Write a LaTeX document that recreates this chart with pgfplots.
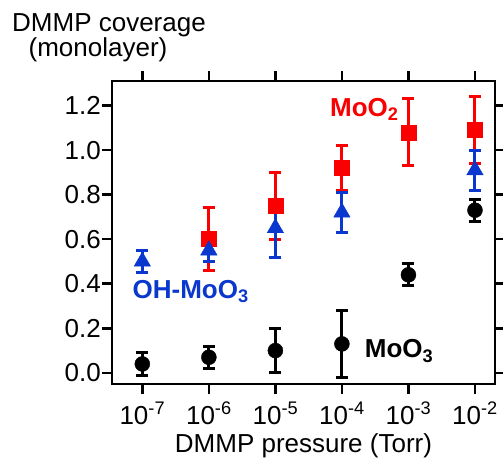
\documentclass[border=0pt]{standalone}
\usepackage{fontspec}
\setmainfont{Liberation Sans}
\usepackage{pgfplots}
\pgfplotsset{compat=1.18}
\definecolor{myred}{RGB}{250,0,0}
\definecolor{myblue}{RGB}{10,55,205}
\begin{document}
\begin{tikzpicture}
\begin{axis}[name=ax, scale only axis, width=383pt, height=303pt,
  xmode=log, xmin=3.5e-8, xmax=2.0e-2, ymin=-0.05, ymax=1.31,
  xminorticks=false,
  axis line style={line width=2.5pt},
  tick align=outside, major tick length=10pt,
  tick style={line width=2.5pt, black},
  xtick={1e-7,1e-6,1e-5,1e-4,1e-3,1e-2},
  xticklabels={10\textsuperscript{-7},10\textsuperscript{-6},10\textsuperscript{-5},10\textsuperscript{-4},10\textsuperscript{-3},10\textsuperscript{-2}},
  ytick={0,0.2,0.4,0.6,0.8,1.0,1.2},
  yticklabels={0.0,0.2,0.4,0.6,0.8,1.0,1.2},
  every tick label/.append style={font=\fontsize{26}{30}\selectfont},
  yticklabel style={inner sep=1pt},
  xticklabel style={inner sep=1pt, anchor=base, yshift=-30pt},
  xlabel={DMMP pressure (Torr)},
  xlabel style={font=\fontsize{26}{30}\selectfont, at={(rel axis cs:0.5,0)}, anchor=base, yshift=-68pt},
  clip=false,
]
% MoO3
\addplot[only marks, mark=*, mark size=7.5pt, black,
  error bars/.cd, y dir=both, y explicit,
  error bar style={line width=3pt},
  error mark options={rotate=90, /tikz/line width=3pt, mark size=6pt}]
coordinates {
 (1e-7,0.04) +- (0,0.05)
 (1e-6,0.07) +- (0,0.05)
 (1e-5,0.10) +- (0,0.10)
 (1e-4,0.13) +- (0,0.15)
 (1e-3,0.44) +- (0,0.05)
 (1e-2,0.73) +- (0,0.05)
};
% MoO2
\addplot[only marks, mark=square*, mark size=7.5pt, myred,
  error bars/.cd, y dir=both, y explicit,
  error bar style={line width=3pt},
  error mark options={rotate=90, /tikz/line width=3pt, mark size=6pt}]
coordinates {
 (1e-6,0.60) +- (0,0.14)
 (1e-5,0.75) +- (0,0.15)
 (1e-4,0.92) +- (0,0.10)
 (1e-3,1.08) +- (0,0.15)
 (1e-2,1.09) +- (0,0.15)
};
% OH-MoO3
\addplot[only marks, mark=triangle*, mark size=9.5pt, myblue,
  error bars/.cd, y dir=both, y explicit,
  error bar style={line width=3pt},
  error mark options={rotate=90, /tikz/line width=3pt, mark size=6pt}]
coordinates {
 (1e-7,0.50) +- (0,0.05)
 (1e-6,0.55) +- (0,0.05)
 (1e-5,0.65) +- (0,0.13)
 (1e-4,0.72) +- (0,0.09)
 (1e-2,0.91) +- (0,0.09)
};
\node[anchor=base west, text=myred, font=\fontsize{26}{30}\selectfont\bfseries, inner sep=0pt] at (axis cs:6.6e-5,1.15) {MoO\textsubscript{2}};
\node[anchor=base west, text=myblue, font=\fontsize{26}{30}\selectfont\bfseries, inner sep=0pt] at (axis cs:7.1e-8,0.336) {OH-MoO\textsubscript{3}};
\node[anchor=base west, text=black, font=\fontsize{26}{30}\selectfont\bfseries, inner sep=0pt] at (axis cs:2.2e-4,0.067) {MoO\textsubscript{3}};
\end{axis}
\node[anchor=base, font=\fontsize{26}{30}\selectfont, inner sep=0pt] at ([shift={(-3pt,49pt)}]ax.north west) {DMMP coverage};
\node[anchor=base, font=\fontsize{26}{30}\selectfont, inner sep=0pt] at ([shift={(-14pt,24pt)}]ax.north west) {(monolayer)};
\pgfresetboundingbox
\path[use as bounding box] ([shift={(-112pt,-74pt)}]ax.south west) rectangle ([shift={(8pt,81pt)}]ax.north east);
\end{tikzpicture}
\end{document}
